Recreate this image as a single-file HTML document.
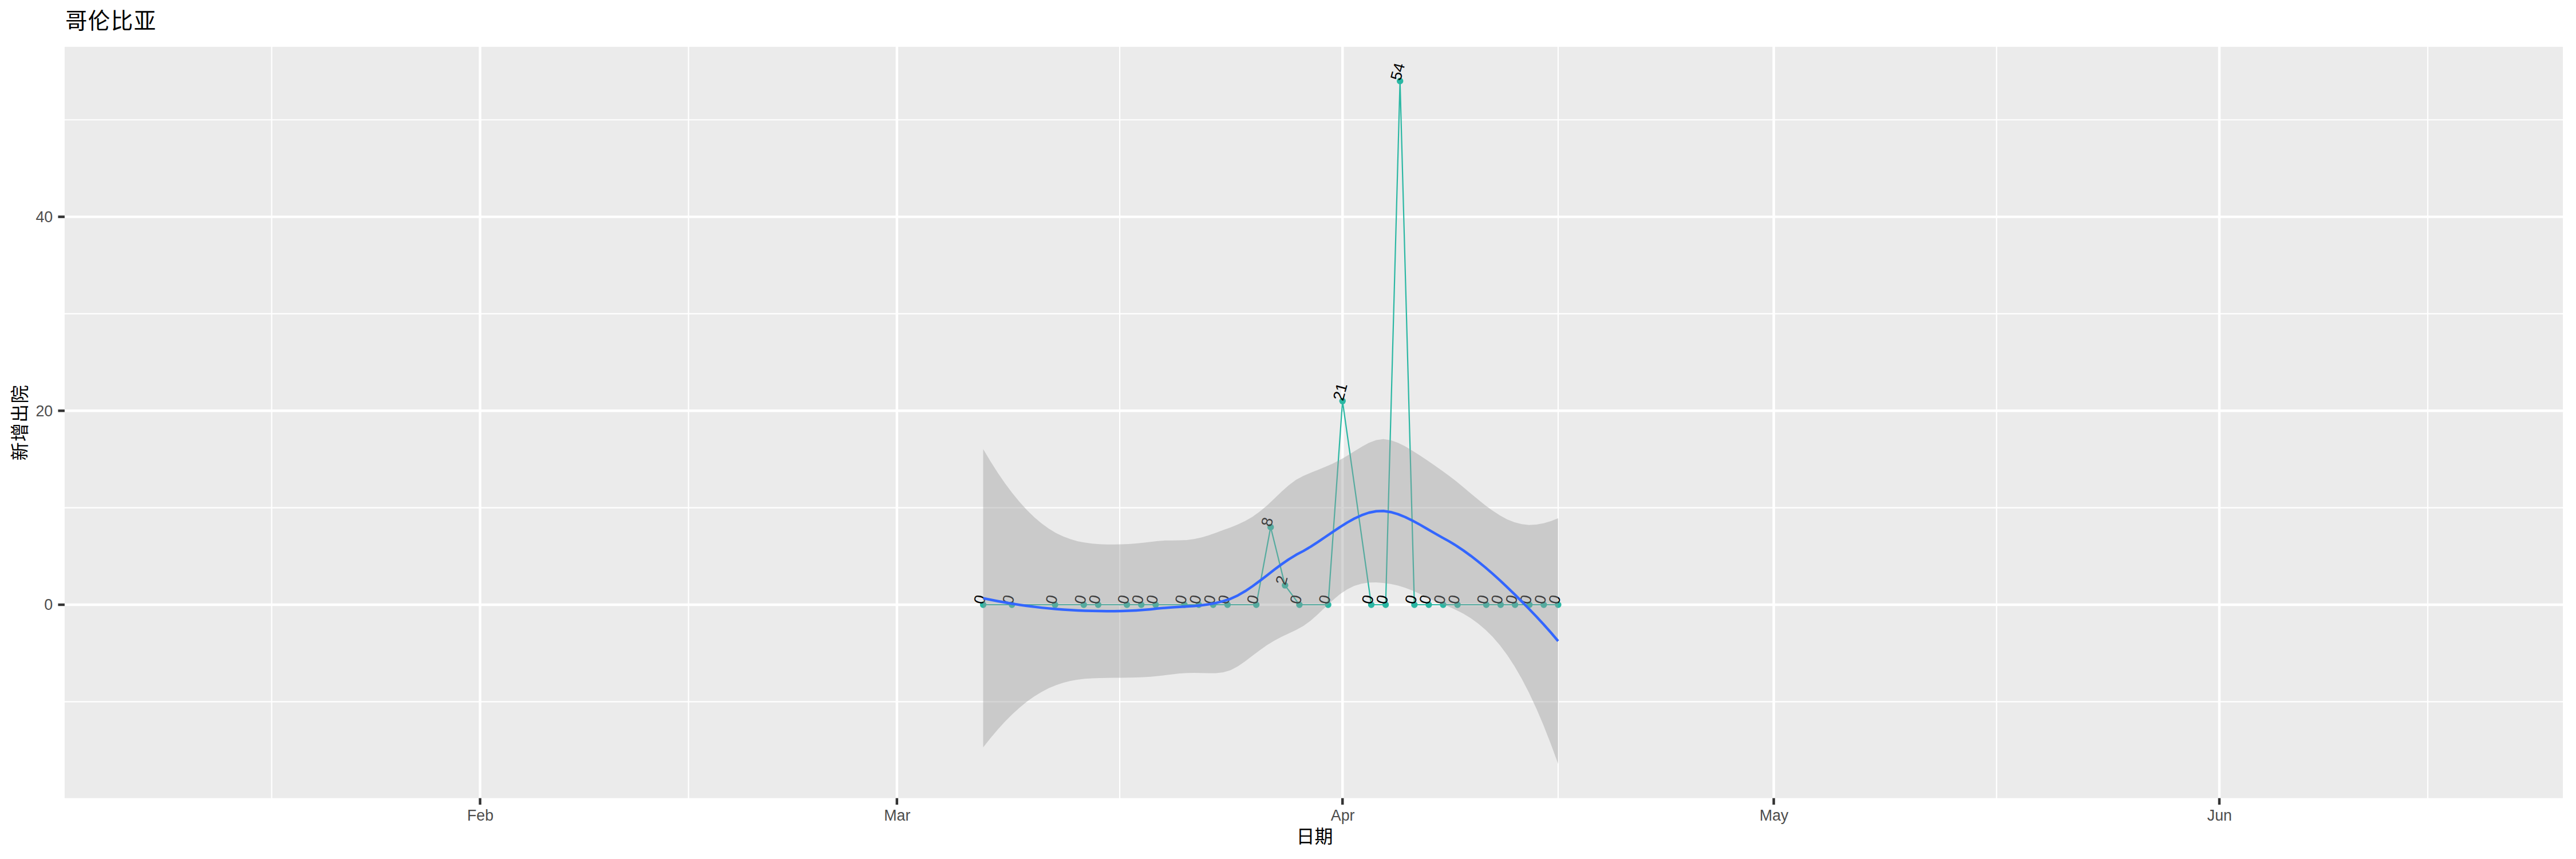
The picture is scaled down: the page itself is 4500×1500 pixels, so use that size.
<!DOCTYPE html>
<html lang="zh"><head><meta charset="utf-8"><title>哥伦比亚</title>
<style>
html,body{margin:0;padding:0;background:#fff;}
body{width:4500px;height:1500px;overflow:hidden;}
svg{display:block;}
text{font-family:"Liberation Sans","Noto Sans CJK SC",sans-serif;}
.ax{font-size:26.8px;fill:#4D4D4D;}
.cjk{font-family:"Liberation Sans","Noto Sans CJK SC",sans-serif;fill:#000;}
.lab{font-size:27px;fill:#000;}
</style></head><body>
<svg width="4500" height="1500" viewBox="0 0 4500 1500">
<defs><clipPath id="pc"><rect x="112.9" y="81.8" width="4364.2" height="1311.9"/></clipPath></defs>
<rect x="0" y="0" width="4500" height="1500" fill="#FFFFFF"/>
<rect x="112.9" y="81.8" width="4364.2" height="1311.9" fill="#EBEBEB"/>
<g stroke="#FFFFFF" stroke-width="2.22" fill="none">
<line x1="111.9" x2="4478.1" y1="1225.35" y2="1225.35"/>
<line x1="111.9" x2="4478.1" y1="886.65" y2="886.65"/>
<line x1="111.9" x2="4478.1" y1="547.95" y2="547.95"/>
<line x1="111.9" x2="4478.1" y1="209.25" y2="209.25"/>
<line y1="80.8" y2="1394.7" x1="474.56" x2="474.56"/>
<line y1="80.8" y2="1394.7" x1="1202.74" x2="1202.74"/>
<line y1="80.8" y2="1394.7" x1="1956.05" x2="1956.05"/>
<line y1="80.8" y2="1394.7" x1="2721.90" x2="2721.90"/>
<line y1="80.8" y2="1394.7" x1="3487.76" x2="3487.76"/>
<line y1="80.8" y2="1394.7" x1="4241.06" x2="4241.06"/>
</g><g stroke="#FFFFFF" stroke-width="4.45" fill="none">
<line x1="111.9" x2="4478.1" y1="1056.00" y2="1056.00"/>
<line x1="111.9" x2="4478.1" y1="717.30" y2="717.30"/>
<line x1="111.9" x2="4478.1" y1="378.60" y2="378.60"/>
<line y1="80.8" y2="1394.7" x1="838.65" x2="838.65"/>
<line y1="80.8" y2="1394.7" x1="1566.84" x2="1566.84"/>
<line y1="80.8" y2="1394.7" x1="2345.25" x2="2345.25"/>
<line y1="80.8" y2="1394.7" x1="3098.55" x2="3098.55"/>
<line y1="80.8" y2="1394.7" x1="3876.96" x2="3876.96"/>
</g>
<g clip-path="url(#pc)">
<polyline fill="none" stroke="#2AB7A3" stroke-width="2.2" stroke-linejoin="round" stroke-linecap="butt" points="1717.50,1056.00 1767.72,1056.00 1843.05,1056.00 1893.27,1056.00 1918.38,1056.00 1968.60,1056.00 1993.71,1056.00 2018.82,1056.00 2069.04,1056.00 2094.15,1056.00 2119.26,1056.00 2144.37,1056.00 2194.59,1056.00 2219.70,920.52 2244.81,1022.13 2269.92,1056.00 2320.14,1056.00 2345.25,700.37 2395.47,1056.00 2420.58,1056.00 2445.69,141.51 2470.80,1056.00 2495.91,1056.00 2521.02,1056.00 2546.13,1056.00 2596.35,1056.00 2621.46,1056.00 2646.57,1056.00 2671.68,1056.00 2696.79,1056.00 2721.90,1056.00"/>
<g fill="#2AB7A3">
<circle cx="1717.50" cy="1056.00" r="5.7"/>
<circle cx="1767.72" cy="1056.00" r="5.7"/>
<circle cx="1843.05" cy="1056.00" r="5.7"/>
<circle cx="1893.27" cy="1056.00" r="5.7"/>
<circle cx="1918.38" cy="1056.00" r="5.7"/>
<circle cx="1968.60" cy="1056.00" r="5.7"/>
<circle cx="1993.71" cy="1056.00" r="5.7"/>
<circle cx="2018.82" cy="1056.00" r="5.7"/>
<circle cx="2069.04" cy="1056.00" r="5.7"/>
<circle cx="2094.15" cy="1056.00" r="5.7"/>
<circle cx="2119.26" cy="1056.00" r="5.7"/>
<circle cx="2144.37" cy="1056.00" r="5.7"/>
<circle cx="2194.59" cy="1056.00" r="5.7"/>
<circle cx="2219.70" cy="920.52" r="5.7"/>
<circle cx="2244.81" cy="1022.13" r="5.7"/>
<circle cx="2269.92" cy="1056.00" r="5.7"/>
<circle cx="2320.14" cy="1056.00" r="5.7"/>
<circle cx="2345.25" cy="700.37" r="5.7"/>
<circle cx="2395.47" cy="1056.00" r="5.7"/>
<circle cx="2420.58" cy="1056.00" r="5.7"/>
<circle cx="2445.69" cy="141.51" r="5.7"/>
<circle cx="2470.80" cy="1056.00" r="5.7"/>
<circle cx="2495.91" cy="1056.00" r="5.7"/>
<circle cx="2521.02" cy="1056.00" r="5.7"/>
<circle cx="2546.13" cy="1056.00" r="5.7"/>
<circle cx="2596.35" cy="1056.00" r="5.7"/>
<circle cx="2621.46" cy="1056.00" r="5.7"/>
<circle cx="2646.57" cy="1056.00" r="5.7"/>
<circle cx="2671.68" cy="1056.00" r="5.7"/>
<circle cx="2696.79" cy="1056.00" r="5.7"/>
<circle cx="2721.90" cy="1056.00" r="5.7"/>
</g>
<g class="lab">
<text x="1718.40" y="1056.60" transform="rotate(-75 1718.40 1056.60)">0</text>
<text x="1768.62" y="1056.60" transform="rotate(-75 1768.62 1056.60)">0</text>
<text x="1843.95" y="1056.60" transform="rotate(-75 1843.95 1056.60)">0</text>
<text x="1894.17" y="1056.60" transform="rotate(-75 1894.17 1056.60)">0</text>
<text x="1919.28" y="1056.60" transform="rotate(-75 1919.28 1056.60)">0</text>
<text x="1969.50" y="1056.60" transform="rotate(-75 1969.50 1056.60)">0</text>
<text x="1994.61" y="1056.60" transform="rotate(-75 1994.61 1056.60)">0</text>
<text x="2019.72" y="1056.60" transform="rotate(-75 2019.72 1056.60)">0</text>
<text x="2069.94" y="1056.60" transform="rotate(-75 2069.94 1056.60)">0</text>
<text x="2095.05" y="1056.60" transform="rotate(-75 2095.05 1056.60)">0</text>
<text x="2120.16" y="1056.60" transform="rotate(-75 2120.16 1056.60)">0</text>
<text x="2145.27" y="1056.60" transform="rotate(-75 2145.27 1056.60)">0</text>
<text x="2195.49" y="1056.60" transform="rotate(-75 2195.49 1056.60)">0</text>
<text x="2220.60" y="921.12" transform="rotate(-75 2220.60 921.12)">8</text>
<text x="2245.71" y="1022.73" transform="rotate(-75 2245.71 1022.73)">2</text>
<text x="2270.82" y="1056.60" transform="rotate(-75 2270.82 1056.60)">0</text>
<text x="2321.04" y="1056.60" transform="rotate(-75 2321.04 1056.60)">0</text>
<text x="2346.15" y="700.97" transform="rotate(-75 2346.15 700.97)">21</text>
<text x="2396.37" y="1056.60" transform="rotate(-75 2396.37 1056.60)">0</text>
<text x="2421.48" y="1056.60" transform="rotate(-75 2421.48 1056.60)">0</text>
<text x="2446.59" y="142.11" transform="rotate(-75 2446.59 142.11)">54</text>
<text x="2471.70" y="1056.60" transform="rotate(-75 2471.70 1056.60)">0</text>
<text x="2496.81" y="1056.60" transform="rotate(-75 2496.81 1056.60)">0</text>
<text x="2521.92" y="1056.60" transform="rotate(-75 2521.92 1056.60)">0</text>
<text x="2547.03" y="1056.60" transform="rotate(-75 2547.03 1056.60)">0</text>
<text x="2597.25" y="1056.60" transform="rotate(-75 2597.25 1056.60)">0</text>
<text x="2622.36" y="1056.60" transform="rotate(-75 2622.36 1056.60)">0</text>
<text x="2647.47" y="1056.60" transform="rotate(-75 2647.47 1056.60)">0</text>
<text x="2672.58" y="1056.60" transform="rotate(-75 2672.58 1056.60)">0</text>
<text x="2697.69" y="1056.60" transform="rotate(-75 2697.69 1056.60)">0</text>
<text x="2722.80" y="1056.60" transform="rotate(-75 2722.80 1056.60)">0</text>
</g>
<polygon points="1717.50,784.21 1730.21,805.55 1742.93,825.51 1755.64,844.03 1768.36,861.08 1781.07,876.62 1793.78,890.61 1806.50,903.01 1819.21,913.82 1831.93,923.04 1844.64,930.69 1857.35,936.86 1870.07,941.62 1882.78,945.13 1895.49,947.53 1908.21,949.14 1920.92,950.15 1933.64,950.68 1946.35,950.78 1959.06,950.51 1971.78,949.90 1984.49,948.98 1997.21,947.77 2009.92,946.29 2022.63,944.64 2035.35,943.83 2048.06,943.71 2060.78,943.61 2073.49,942.96 2086.20,941.33 2098.92,938.58 2111.63,934.80 2124.35,930.31 2137.06,925.54 2149.77,920.88 2162.49,915.80 2175.20,909.78 2187.92,902.40 2200.63,893.35 2213.34,882.68 2226.06,870.83 2238.77,858.62 2251.48,847.19 2264.20,837.76 2276.91,831.10 2289.63,825.54 2302.34,820.43 2315.05,815.29 2327.77,809.68 2340.48,803.26 2353.20,795.95 2365.91,788.04 2378.62,780.16 2391.34,773.24 2404.05,768.38 2416.77,766.66 2429.48,768.68 2442.19,773.26 2454.91,779.62 2467.62,787.13 2480.34,795.31 2493.05,803.86 2505.76,812.62 2518.48,821.51 2531.19,830.68 2543.91,840.58 2556.62,850.98 2569.33,861.63 2582.05,872.21 2594.76,882.38 2607.47,891.79 2620.19,900.07 2632.90,906.92 2645.62,912.08 2658.33,915.35 2671.04,916.63 2683.76,916.04 2696.47,913.75 2709.19,909.97 2721.90,904.95 2721.90,1333.95 2709.19,1299.19 2696.47,1266.87 2683.76,1237.08 2671.04,1209.86 2658.33,1185.26 2645.62,1163.21 2632.90,1143.70 2620.19,1126.67 2607.47,1111.97 2594.76,1099.38 2582.05,1088.66 2569.33,1079.54 2556.62,1071.78 2543.91,1065.15 2531.19,1059.50 2518.48,1054.65 2505.76,1049.28 2493.05,1043.21 2480.34,1037.04 2467.62,1031.31 2454.91,1026.39 2442.19,1022.51 2429.48,1019.71 2416.77,1017.95 2404.05,1017.06 2391.34,1017.30 2378.62,1019.14 2365.91,1023.04 2353.20,1029.28 2340.48,1037.86 2327.77,1048.43 2315.05,1060.25 2302.34,1072.38 2289.63,1083.70 2276.91,1093.12 2264.20,1099.91 2251.48,1105.94 2238.77,1112.09 2226.06,1118.85 2213.34,1126.61 2200.63,1135.45 2187.92,1145.09 2175.20,1154.80 2162.49,1163.58 2149.77,1170.23 2137.06,1173.88 2124.35,1175.38 2111.63,1175.60 2098.92,1175.27 2086.20,1175.01 2073.49,1175.23 2060.78,1176.07 2048.06,1177.44 2035.35,1179.04 2022.63,1180.52 2009.92,1181.64 1997.21,1182.41 1984.49,1182.92 1971.78,1183.23 1959.06,1183.40 1946.35,1183.53 1933.64,1183.67 1920.92,1183.94 1908.21,1184.45 1895.49,1185.34 1882.78,1186.79 1870.07,1189.02 1857.35,1192.18 1844.64,1196.40 1831.93,1201.78 1819.21,1208.38 1806.50,1216.24 1793.78,1225.37 1781.07,1235.73 1768.36,1247.32 1755.64,1260.08 1742.93,1273.98 1730.21,1288.97 1717.50,1305.01" fill="#999999" fill-opacity="0.4" stroke="none"/>
<polyline fill="none" stroke="#3366FF" stroke-width="4.45" stroke-linejoin="round" points="1717.50,1044.61 1730.21,1047.26 1742.93,1049.74 1755.64,1052.05 1768.36,1054.20 1781.07,1056.18 1793.78,1057.99 1806.50,1059.63 1819.21,1061.10 1831.93,1062.41 1844.64,1063.55 1857.35,1064.52 1870.07,1065.32 1882.78,1065.96 1895.49,1066.43 1908.21,1066.79 1920.92,1067.05 1933.64,1067.18 1946.35,1067.15 1959.06,1066.96 1971.78,1066.56 1984.49,1065.95 1997.21,1065.09 2009.92,1063.96 2022.63,1062.58 2035.35,1061.43 2048.06,1060.57 2060.78,1059.84 2073.49,1059.09 2086.20,1058.17 2098.92,1056.92 2111.63,1055.20 2124.35,1052.85 2137.06,1049.71 2149.77,1045.55 2162.49,1039.69 2175.20,1032.29 2187.92,1023.74 2200.63,1014.40 2213.34,1004.64 2226.06,994.84 2238.77,985.36 2251.48,976.57 2264.20,968.84 2276.91,962.11 2289.63,954.62 2302.34,946.40 2315.05,937.77 2327.77,929.05 2340.48,920.56 2353.20,912.62 2365.91,905.54 2378.62,899.65 2391.34,895.27 2404.05,892.72 2416.77,892.31 2429.48,894.20 2442.19,897.88 2454.91,903.00 2467.62,909.22 2480.34,916.17 2493.05,923.53 2505.76,930.95 2518.48,938.08 2531.19,945.09 2543.91,952.87 2556.62,961.38 2569.33,970.59 2582.05,980.44 2594.76,990.88 2607.47,1001.88 2620.19,1013.37 2632.90,1025.31 2645.62,1037.65 2658.33,1050.30 2671.04,1063.25 2683.76,1076.56 2696.47,1090.31 2709.19,1104.58 2721.90,1119.45"/>
</g>
<g stroke="#333333" stroke-width="4.45">
<line x1="101.44" x2="112.9" y1="1056.00" y2="1056.00"/>
<line x1="101.44" x2="112.9" y1="717.30" y2="717.30"/>
<line x1="101.44" x2="112.9" y1="378.60" y2="378.60"/>
<line y1="1393.7" y2="1405.16" x1="838.65" x2="838.65"/>
<line y1="1393.7" y2="1405.16" x1="1566.84" x2="1566.84"/>
<line y1="1393.7" y2="1405.16" x1="2345.25" x2="2345.25"/>
<line y1="1393.7" y2="1405.16" x1="3098.55" x2="3098.55"/>
<line y1="1393.7" y2="1405.16" x1="3876.96" x2="3876.96"/>
</g>
<g class="ax">
<text x="92.27" y="1065.45" text-anchor="end">0</text>
<text x="92.27" y="726.75" text-anchor="end">20</text>
<text x="92.27" y="388.05" text-anchor="end">40</text>
<text x="839.05" y="1433.00" text-anchor="middle">Feb</text>
<text x="1567.24" y="1433.00" text-anchor="middle">Mar</text>
<text x="2345.65" y="1433.00" text-anchor="middle">Apr</text>
<text x="3098.95" y="1433.00" text-anchor="middle">May</text>
<text x="3877.36" y="1433.00" text-anchor="middle">Jun</text>
</g>
<text class="cjk" x="113.90" y="49.50" font-size="38.5" letter-spacing="1.45">哥伦比亚</text>
<text class="cjk" x="2296.50" y="1471.80" font-size="32" text-anchor="middle">日期</text>
<text class="cjk" x="45.90" y="737.75" font-size="32" letter-spacing="1.3" text-anchor="middle" transform="rotate(-90 45.90 737.75)">新增出院</text>
</svg></body></html>
